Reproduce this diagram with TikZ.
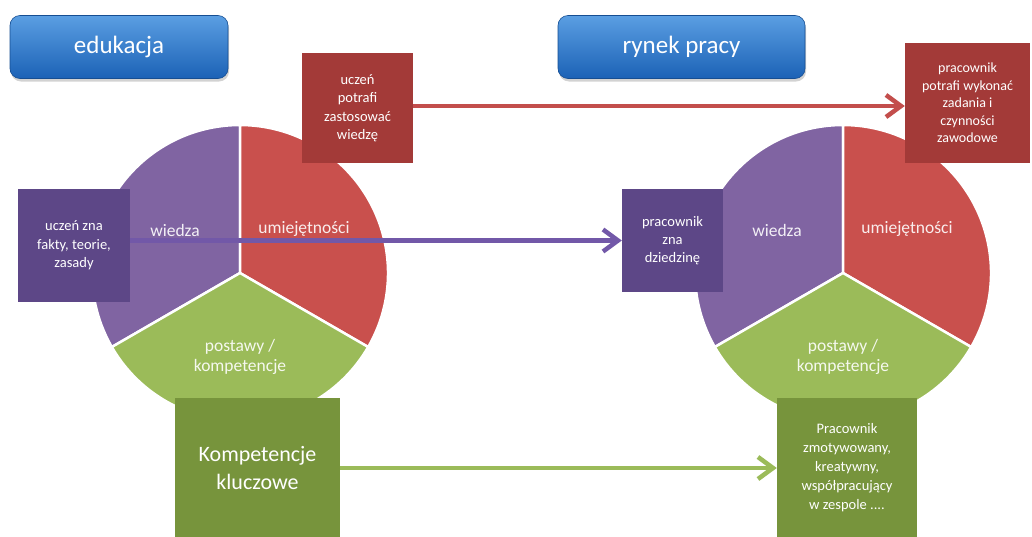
\documentclass[tikz,border=0pt]{standalone}
\usepackage{fontspec}
\setmainfont{Carlito}
\usetikzlibrary{arrows.meta,shadows,calc}
\definecolor{pieP}{HTML}{8064A2}
\definecolor{pieR}{HTML}{C9504D}
\definecolor{pieG}{HTML}{9BBB59}
\definecolor{boxP}{HTML}{5D4787}
\definecolor{boxR}{HTML}{A33A38}
\definecolor{boxG}{HTML}{77943C}
\definecolor{arrP}{HTML}{7258A8}
\definecolor{arrR}{HTML}{C34E4C}
\definecolor{arrG}{HTML}{9BBB59}
\definecolor{blueT}{HTML}{5A9EE2}
\definecolor{blueB}{HTML}{1C62B6}
\tikzset{
  sector/.style={draw=white,line width=2.5pt},
  tbox/.style={rectangle,inner sep=0pt,text=white,align=center,
    font=\fontsize{14.5}{18.5}\selectfont},
  headbox/.style={rectangle,rounded corners=10pt,inner sep=0pt,
    top color=blueT,bottom color=blueB,draw=blueB!80!black,line width=0.6pt,
    text=white,font=\fontsize{25}{29}\selectfont,
    drop shadow={opacity=0.35,shadow xshift=1pt,shadow yshift=-3pt},
    minimum height=63pt},
  pielab/.style={text=white,text opacity=0.9,align=center,
    font=\fontsize{17.5}{19.5}\selectfont},
  conn/.style={line width=4.5pt,-{Straight Barb[length=15pt,width=22pt,line width=4.5pt]}},
}
\begin{document}
\begin{tikzpicture}[x=1pt,y=-1pt]
\useasboundingbox (0,0) rectangle (1032,536);
\fill[white] (0,0) rectangle (1032,536);

% headers
\node[headbox,minimum width=218pt] (hedu) at (119,47) {edukacja};
\node[headbox,minimum width=247pt] (hryn) at (681.5,47) {rynek pracy};

% left pie
\coordinate (cl) at (240,273);
\fill[pieP,sector] (cl) -- ++(-90:148) arc[start angle=-90,end angle=-210,radius=148] -- cycle;
\fill[pieR,sector] (cl) -- ++(30:148) arc[start angle=30,end angle=-90,radius=148] -- cycle;
\fill[pieG,sector] (cl) -- ++(150:148) arc[start angle=150,end angle=30,radius=148] -- cycle;
\node[pielab] (lw) at (175,230) {wiedza};
\node[pielab] (lu) at (304,229) {umiejętności};
\node[pielab] (lp) at (240,357) {postawy /\\kompetencje};

% right pie
\coordinate (cr) at (843,273);
\fill[pieP,sector] (cr) -- ++(-90:148) arc[start angle=-90,end angle=-210,radius=148] -- cycle;
\fill[pieR,sector] (cr) -- ++(30:148) arc[start angle=30,end angle=-90,radius=148] -- cycle;
\fill[pieG,sector] (cr) -- ++(150:148) arc[start angle=150,end angle=30,radius=148] -- cycle;
\node[pielab] (rw) at (777,230) {wiedza};
\node[pielab] (ru) at (907,229) {umiejętności};
\node[pielab] (rp) at (843,357) {postawy /\\kompetencje};

% boxes
\node[tbox,fill=boxR,minimum width=111pt,minimum height=110pt] (lr) at (357.5,108)
  {uczeń\\potrafi\\zastosować\\wiedzę};
\node[tbox,fill=boxP,minimum width=112pt,minimum height=113pt] (lpu) at (74,245.5)
  {uczeń zna\\fakty, teorie,\\zasady};
\node[tbox,fill=boxG,minimum width=165pt,minimum height=140pt,
  font=\fontsize{22}{28}\selectfont] (lg) at (257.5,468)
  {Kompetencje\\kluczowe};
\node[tbox,fill=boxR,minimum width=125pt,minimum height=120pt,
  font=\fontsize{14}{17.5}\selectfont] (rr) at (967.5,103)
  {pracownik\\potrafi wykonać\\zadania i\\czynności\\zawodowe};
\node[tbox,fill=boxP,minimum width=101pt,minimum height=103pt,
  font=\fontsize{14.5}{18}\selectfont] (rpu) at (672.5,240.5)
  {pracownik\\zna\\dziedzinę};
\node[tbox,fill=boxG,minimum width=140pt,minimum height=140pt,
  font=\fontsize{14.5}{19}\selectfont] (rg) at (847,468)
  {Pracownik\\zmotywowany,\\kreatywny,\\współpracujący\\w zespole ....};

% connectors
\draw[conn,arrR] (lr.east |- 0,106) -- (rr.west |- 0,106);
\draw[conn,arrP] (lpu.east |- rpu.west) -- (rpu.west);
\draw[conn,arrG] (lg.east) -- (rg.west);
\end{tikzpicture}
\end{document}
